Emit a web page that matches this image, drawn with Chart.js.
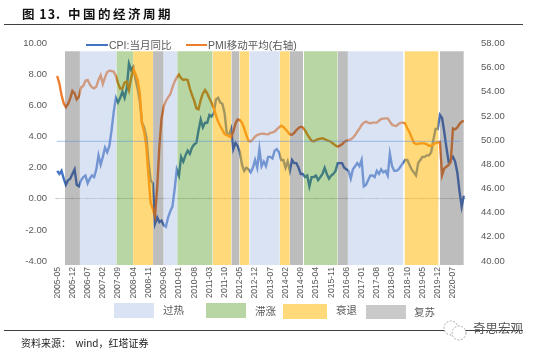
<!DOCTYPE html>
<html>
<head>
<meta charset="utf-8">
<script src="https://cdn.jsdelivr.net/npm/chart.js@4"></script>
<style>
  html, body { margin: 0; padding: 0; background: #fff; }
  #page { position: relative; width: 541px; height: 354px; overflow: hidden; filter: blur(0.35px);
    font-family: "Liberation Sans", "Noto Sans CJK SC", sans-serif; color: #595959; }
  #page div { position: absolute; white-space: nowrap; }
  canvas { position: absolute; left: 0; top: 0; }
  .rule { background: #404040; height: 1px; left: 4px; width: 519px; }
  .key { font-size: 10.5px; line-height: 12px; }
  .head { top: 6px; font-size: 12.5px; line-height: 16px; font-weight: bold; color: #111; font-family: "Noto Sans CJK SC", sans-serif; }
</style>
</head>
<body>
<div id="page">
  <canvas id="cycleChart" width="541" height="354"></canvas>
  <div class="head" style="left:22px;letter-spacing:1px">图 13.</div>
  <div class="head" style="left:68px;letter-spacing:2.5px">中国的经济周期</div>
  <div class="rule" style="top:24px"></div>
  <div class="rule" style="top:330px;width:468px"></div>
  <div class="rule" style="top:330px;left:472px;width:51px"></div>
  <div id="keys"></div>
  <div style="left:21px;top:336px;font-size:10px;line-height:14px;color:#222;font-family:'Noto Sans CJK SC',sans-serif">资料来源：&nbsp; wind，红塔证券</div>
  <svg style="position:absolute;left:441px;top:319px" width="30" height="24">
    <circle cx="10" cy="9" r="7" fill="#fff" stroke="#888" stroke-width="0.7" stroke-dasharray="2 1.5"/>
    <circle cx="18" cy="14" r="7" fill="#fff" stroke="#888" stroke-width="0.7" stroke-dasharray="2 1.5"/>
  </svg>
  <div style="left:473px;top:320px;font-size:12.5px;line-height:16px;color:#555;font-family:'Noto Sans CJK SC',sans-serif">奇思宏观</div>
</div>

<script>
// x axis labels, one every 7 months from 2005-05
const tickLabels = ['2005-05','2005-12','2006-07','2007-02','2007-09','2008-04','2008-11','2009-06','2010-01',
  '2010-08','2011-03','2011-10','2012-05','2012-12','2013-07','2014-02','2014-09','2015-04','2015-11',
  '2016-06','2017-01','2017-08','2018-03','2018-10','2019-05','2019-12','2020-07'];
const monthsPerTick = 7;

const leftTicks = [-4, -2, 0, 2, 4, 6, 8, 10];
const rightTicks = [40, 42, 44, 46, 48, 50, 52, 54, 56, 58];

const cpi = [1.8,1.6,1.8,1.3,0.9,1.2,1.3,1.6,
  1.9,0.9,0.8,1.2,1.4,1.5,1.0,1.3,1.5,1.4,1.9,2.8,
  2.2,2.7,3.3,3.0,3.4,4.4,5.6,6.5,6.2,6.5,6.9,6.5,
  7.1,8.7,8.3,8.5,7.7,7.1,6.3,4.9,4.6,4.0,2.4,1.2,
  1.0,-1.6,-1.2,-1.5,-1.4,-1.7,-1.8,-1.2,-0.8,-0.5,0.6,1.9,
  1.5,2.7,2.4,2.8,3.1,2.9,3.3,3.5,3.6,4.4,5.1,4.6,
  4.9,4.9,5.4,5.3,5.5,6.4,6.5,6.2,6.1,5.5,4.2,4.1,
  4.5,3.2,3.6,3.4,3.0,2.2,1.8,2.0,1.9,1.7,2.0,2.5,
  2.0,3.2,2.1,2.4,2.1,2.7,2.7,2.6,3.1,3.2,3.0,2.5,
  2.5,2.0,2.4,1.8,2.5,2.3,2.3,2.0,1.6,1.6,1.4,1.5,
  0.8,1.4,1.4,1.5,1.2,1.4,1.6,2.0,1.6,1.3,1.5,1.6,
  1.8,2.3,2.3,2.3,2.0,1.9,1.8,1.3,1.9,2.1,2.3,2.1,
  2.5,0.8,0.9,1.2,1.5,1.5,1.4,1.8,1.6,1.9,1.7,1.8,
  1.5,2.9,2.1,1.8,1.8,1.9,2.1,2.3,2.5,2.5,2.2,1.9,
  1.7,1.5,2.3,2.5,2.7,2.7,2.8,2.8,3.0,3.8,4.5,4.5,
  5.4,5.2,4.3,3.3,2.4,2.5,2.7,2.4,1.7,0.5,-0.5,0.2];

const pmiAvg = [55.31,54.70,53.74,53.05,52.72,52.99,53.46,54.07,53.87,53.38,53.60,54.37,54.48,54.92,54.98,54.62,
  54.37,54.29,54.43,54.98,55.36,54.65,55.20,55.64,55.75,55.72,55.67,55.31,54.70,54.26,54.29,54.76,
  54.84,54.15,55.12,55.89,55.48,54.98,53.87,51.39,50.70,49.46,47.0,44.8,44.3,43.7,
  46.1,49.46,51.80,52.77,53.24,53.54,53.80,54.37,54.84,55.20,55.42,55.12,54.98,55.03,54.98,54.29,
  53.74,53.27,52.63,52.55,53.32,53.87,54.15,53.87,53.46,53.10,52.63,52.08,51.53,51.17,50.84,50.50,
  50.42,50.34,50.23,50.70,51.39,51.72,51.67,51.45,50.98,50.42,49.93,49.90,50.07,50.29,50.42,50.50,
  50.53,50.53,50.50,50.48,
  50.60,50.64,50.70,50.89,51.05,51.20,51.10,50.90,50.70,50.48,50.45,50.60,50.84,51.00,51.11,51.05,
  50.80,50.48,50.20,49.95,49.90,50.00,50.09,50.12,50.15,50.08,50.00,49.93,49.85,49.70,49.55,49.46,
  49.55,49.65,49.85,49.95,50.00,50.06,50.20,50.42,50.70,50.95,51.25,51.45,
  51.53,51.45,51.39,51.45,51.45,51.45,51.61,51.75,51.78,51.80,51.80,51.53,51.28,51.20,51.17,51.34,
  51.45,51.45,51.39,50.98,50.65,50.23,49.79,49.68,49.70,49.73,49.73,49.73,49.65,49.54,49.54,49.65,
  49.76,49.82,49.87,47.10,47.66,47.80,47.94,48.20,50.97,50.89,51.05,51.33,51.53,51.60];

const refLevel = 3.7;
const refFrom = -0.2, refTo = 185.5;

// regime bands, in month positions
const bandStart = [3.55,10.47,27.2,34.9,44.1,49.0,55.2,71.5,80.1,83.8,88.4,102.4,107,113.5,129,133.7,159.7,176];
const bandEnd =   [10.47,27.2,34.9,44.1,49.0,55.2,71.5,80.1,83.8,88.4,102.4,107,113.1,129,133.7,159.2,175.4,187];
const bandKind =  ['复苏','过热','滞涨','衰退','复苏','过热','滞涨','衰退','复苏','衰退','过热','衰退','复苏','滞涨','复苏','过热','衰退','复苏'];
const bandTop = 9.5;
const bandBottom = -4.26;

const regimeNames = ['过热','滞涨','衰退','复苏'];
const regimeFill = {'过热':'rgba(173,193,229,0.45)','滞涨':'rgba(59,143,5,0.37)','衰退':'rgba(255,182,0,0.52)','复苏':'rgba(66,66,66,0.35)'};
const regimeKey = {'过热':'#DAE3F3','滞涨':'#B7D6A3','衰退':'#FFD97A','复苏':'#C9C9C9'};

// legend, plain html so it can sit where the original has it
const keys = document.getElementById('keys');
function addBox(l, t, w, h, c) {
  const d = document.createElement('div');
  d.style.cssText = `left:${l}px;top:${t}px;width:${w}px;height:${h}px;background:${c}`;
  keys.appendChild(d);
}
function addText(l, t, s) {
  const d = document.createElement('div');
  d.className = 'key';
  d.style.left = l + 'px';
  d.style.top = t + 'px';
  d.textContent = s;
  keys.appendChild(d);
}
addBox(86, 43.5, 22, 2.5, '#4472C4');
addText(109, 39, 'CPI:当月同比');
addBox(186, 43.5, 21, 2.5, '#ED7D31');
addText(208, 39, 'PMI移动平均(右轴)');
const keyX = [114, 206, 283, 366], keyW = [40, 40, 44, 40], keyT = [303, 303, 304, 304.5], textX = [163, 255, 336, 414], textT = [304, 305, 304, 306];
regimeNames.forEach((n, i) => {
  addBox(keyX[i], keyT[i], keyW[i], 14.5, regimeKey[n]);
  addText(textX[i], textT[i], n);
});

const toPoints = arr => arr.map((v, i) => ({x: i, y: v}));

const bandSets = bandStart.map((s, i) => ({
  type: 'line',
  label: bandKind[i],
  data: [{x: s, y: bandTop}, {x: bandEnd[i], y: bandTop}],
  yAxisID: 'y',
  borderWidth: 0,
  pointRadius: 0,
  backgroundColor: regimeFill[bandKind[i]],
  fill: {value: bandBottom},
  order: 1
}));

const cycle_config = {
  type: 'line',
  data: {
    datasets: [
      ...bandSets,
      {label: 'ref', data: [{x: refFrom, y: refLevel}, {x: refTo, y: refLevel}], yAxisID: 'y', borderColor: 'rgba(91,140,220,0.42)', borderWidth: 1.4, pointRadius: 0, order: 0},
      {label: 'CPI:当月同比', data: toPoints(cpi), yAxisID: 'y', borderColor: '#4472C4', borderWidth: 2.4, pointRadius: 0, order: 3},
      {label: 'PMI移动平均(右轴)', data: toPoints(pmiAvg), yAxisID: 'y1', borderColor: '#ED7D31', borderWidth: 2.4, pointRadius: 0, order: 2},
      {label: 'ticks', data: tickLabels.map((t, i) => ({x: i * monthsPerTick, y: 0})), yAxisID: 'y', showLine: false,
        pointStyle: 'line', rotation: 90, pointRadius: 1.5, pointBorderColor: '#dcdcdc', pointBorderWidth: 0.8, order: 5}
    ]
  },
  options: {
    responsive: false,
    animation: false,
    layout: {padding: {top: 43.5, bottom: 0, left: 0, right: 0}},
    plugins: {legend: {display: false}, tooltip: {enabled: false}},
    scales: {
      x: {
        type: 'linear',
        min: -1,
        max: 188,
        grid: {display: false, drawTicks: false},
        border: {display: false},
        afterFit: s => { s.height = 89; },
        afterBuildTicks: s => { s.ticks = tickLabels.map((t, i) => ({value: i * monthsPerTick})); },
        ticks: {
          autoSkip: false,
          minRotation: 90,
          maxRotation: 90,
          padding: 2,
          color: '#595959',
          font: {family: 'Liberation Sans', size: 8.6},
          callback: v => tickLabels[v / monthsPerTick]
        }
      },
      y: {
        min: bandBottom,
        max: 10,
        position: 'left',
        afterFit: s => { s.width = 55; },
        afterBuildTicks: s => { s.ticks = leftTicks.map(v => ({value: v})); },
        border: {display: false},
        grid: {drawTicks: false, color: c => c.tick && c.tick.value === 0 ? '#d4d4d4' : 'transparent'},
        ticks: {padding: 8, color: '#595959', font: {family: 'Liberation Sans', size: 9.5}, callback: v => v.toFixed(2)}
      },
      y1: {
        min: 39.666,
        max: 58,
        position: 'right',
        afterFit: s => { s.width = 75; },
        afterBuildTicks: s => { s.ticks = rightTicks.map(v => ({value: v})); },
        border: {display: false},
        grid: {display: false},
        ticks: {padding: 7, color: '#595959', font: {family: 'Liberation Sans', size: 9.5}, callback: v => v.toFixed(2)}
      }
    }
  }
};

new Chart(document.getElementById('cycleChart'), cycle_config);
</script>
</body>
</html>
